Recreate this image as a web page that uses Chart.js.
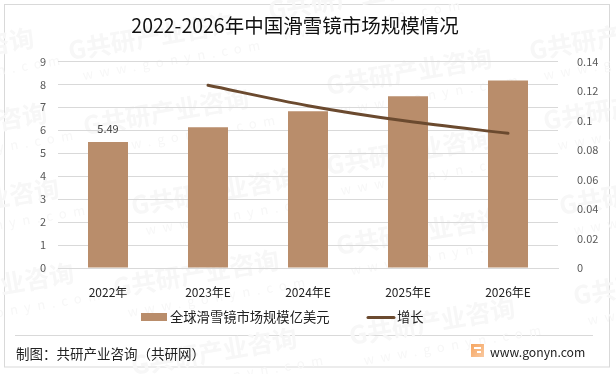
<!DOCTYPE html>
<html>
<head>
<meta charset="utf-8">
<style>
html, body { margin: 0; padding: 0; background: #fff; }
#wrap { width: 616px; height: 374px; }
</style>
<script src="https://cdn.jsdelivr.net/npm/chart.js@4/dist/chart.umd.min.js"></script>
</head>
<body>
<div id="wrap"><canvas id="chart" width="616" height="374"></canvas></div>
<script>
const FONT = '"Noto Sans CJK SC", "Noto Sans", sans-serif';

const categories = ['2022年', '2023年E', '2024年E', '2025年E', '2026年E'];
const marketSize = [5.49, 6.13, 6.83, 7.48, 8.17];
const growth = [null, 0.1238, 0.110, 0.0994, 0.0913];
const barLabels = ['5.49', null, null, null, null];
const titleText = '2022-2026年中国滑雪镜市场规模情况';
const sourceText = '制图：共研产业咨询（共研网）';
const siteText = 'www.gonyn.com';

// watermark anchors, left end of the stamp
const stamps = [[70,60],[85,135],[133,215],[115,297],[133,375],[270,20],[328,95],[531,60],[545,130],
    [328,175],[338,255],[351,345],[561,215],[575,305],[-130,75],[-117,150],[-105,225],[-90,310]];

const decor = {
    id: 'decor',
    beforeDraw(chart) {
        const c = chart.ctx;
        c.save();
        c.fillStyle = '#fff';
        c.fillRect(0, 0, 616, 374);
        c.strokeStyle = '#d9d9d9';
        c.lineWidth = 1;
        c.strokeRect(4.5, 4.5, 605, 362.5);
        c.beginPath();
        c.moveTo(15, 335.5);
        c.lineTo(593, 335.5);
        c.stroke();
        stamps.forEach(s => {
            c.save();
            c.translate(s[0], s[1]);
            c.rotate(-0.17);
            c.fillStyle = '#f7f7f7';
            c.font = 'bold 25px ' + FONT;
            c.fillText('G共研产业咨询', 0, 0);
            c.font = '13px ' + FONT;
            c.letterSpacing = '6.5px';
            c.fillText(siteText, 10, 22);
            c.restore();
        });
        c.restore();
    },
    afterLayout(chart) {
        // title is not centred on the canvas in the original
        chart.titleBlock.left -= 13;
        chart.titleBlock.right -= 13;
    },
    afterDatasetsDraw(chart) {
        const c = chart.ctx;
        c.save();
        c.fillStyle = '#404040';
        c.font = '11px ' + FONT;
        c.textAlign = 'center';
        chart.getDatasetMeta(1).data.forEach((bar, i) => {
            if (barLabels[i]) c.fillText(barLabels[i], bar.x, bar.y - 9);
        });
        c.restore();
    },
    afterDraw(chart) {
        const c = chart.ctx;
        const [line, bar] = chart.data.datasets;
        c.save();
        // legend, spaced as in the original
        c.fillStyle = bar.backgroundColor;
        c.fillRect(141, 313, 26, 8);
        c.strokeStyle = line.borderColor;
        c.lineWidth = 3;
        c.lineCap = 'round';
        c.beginPath();
        c.moveTo(368, 317.5);
        c.lineTo(394, 317.5);
        c.stroke();
        c.fillStyle = '#222';
        c.textBaseline = 'middle';
        c.font = '13.3px ' + FONT;
        c.fillText(bar.label, 170, 317);
        c.fillText(line.label, 397, 317);
        c.font = '13.5px ' + FONT;
        c.fillText(sourceText, 16, 354);
        c.font = '12.2px ' + FONT;
        c.fillText(siteText, 490, 352);
        const g = c.createLinearGradient(471, 344, 484, 357);
        g.addColorStop(0, '#f6a55f');
        g.addColorStop(1, '#f9c9a0');
        c.fillStyle = g;
        c.fillRect(471, 344, 13, 13);
        c.fillStyle = '#fff';
        c.fillRect(474, 347, 7, 2);
        c.fillRect(477, 351, 4, 2);
        c.restore();
    }
};

new Chart(document.getElementById('chart'), {
    data: {
        labels: categories,
        datasets: [{
            type: 'line',
            label: '增长',
            data: growth,
            yAxisID: 'y1',
            borderColor: '#6b4a2f',
            backgroundColor: '#6b4a2f',
            borderWidth: 3,
            borderCapStyle: 'round',
            pointRadius: 0,
            tension: 0.3,
            order: 1
        }, {
            type: 'bar',
            label: '全球滑雪镜市场规模亿美元',
            data: marketSize,
            yAxisID: 'y',
            backgroundColor: '#b98d6b',
            barPercentage: 1,
            categoryPercentage: 0.4,
            order: 2
        }]
    },
    options: {
        responsive: false,
        animation: false,
        layout: { padding: { top: 10, bottom: 72, left: 0, right: 0 } },
        plugins: {
            title: {
                display: true,
                text: titleText,
                color: '#111',
                font: { family: FONT, size: 19.5, weight: 'normal' },
                padding: { top: 4, bottom: 24 }
            },
            legend: { display: false },
            tooltip: { enabled: false }
        },
        scales: {
            x: {
                grid: { display: false },
                border: { color: '#d9d9d9' },
                ticks: { color: '#222', padding: 9, maxRotation: 0, font: { family: FONT, size: 12 } },
                afterFit(axis) { axis.height = 34; }
            },
            y: {
                position: 'left',
                min: 0,
                max: 9,
                afterFit(axis) { axis.width = 58; },
                grid: { color: '#d9d9d9', drawTicks: false },
                border: { display: false },
                ticks: { stepSize: 1, color: '#595959', padding: 12, font: { family: FONT, size: 11 } }
            },
            y1: {
                position: 'right',
                min: 0,
                max: 0.14,
                afterFit(axis) { axis.width = 58; },
                grid: { display: false },
                border: { display: false },
                ticks: {
                    stepSize: 0.02,
                    color: '#595959',
                    padding: 11,
                    font: { family: FONT, size: 11 },
                    callback: v => +v.toFixed(2)
                }
            }
        }
    },
    plugins: [decor]
});
</script>
</body>
</html>
